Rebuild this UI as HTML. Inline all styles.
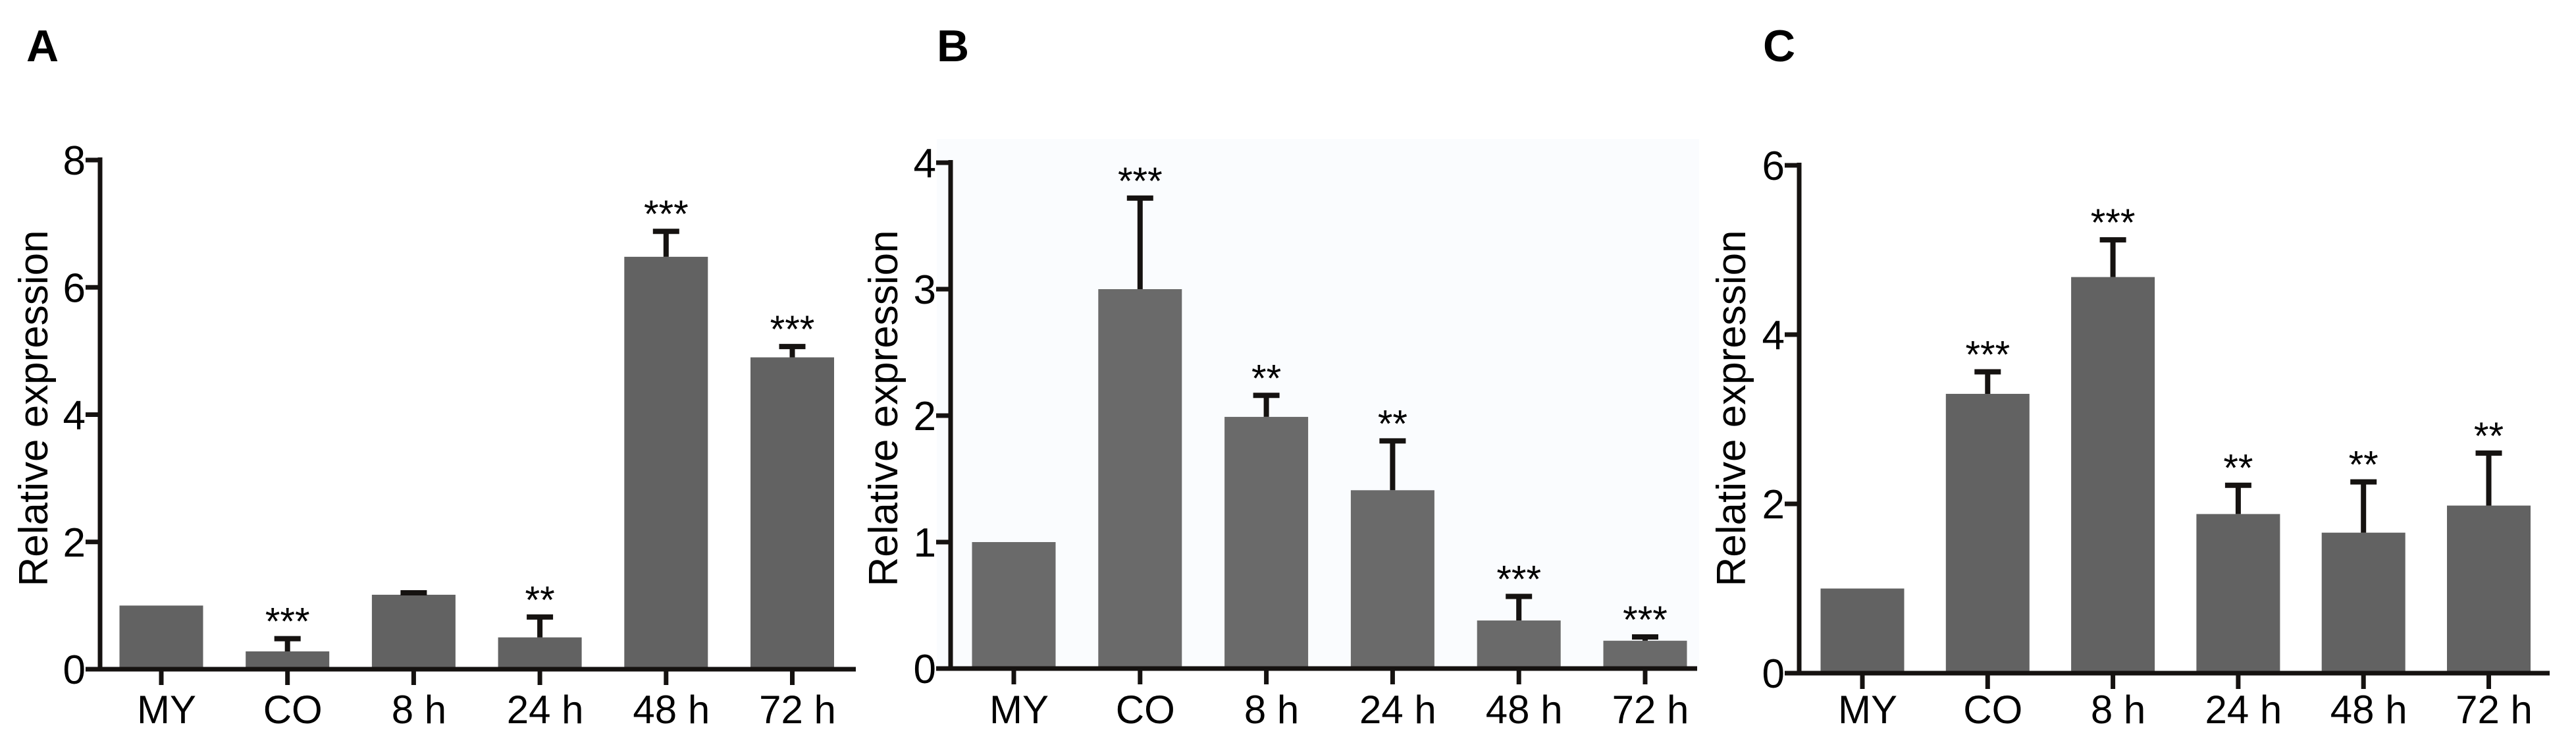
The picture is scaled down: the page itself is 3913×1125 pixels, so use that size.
<!DOCTYPE html>
<html><head><meta charset="utf-8"><style>
html,body{margin:0;padding:0;background:#fff;}
svg{display:block;font-family:"Liberation Sans",Arial,sans-serif;}
</style></head><body>
<svg id="fig" width="3913" height="1125" viewBox="0 0 3913 1125">
<rect x="0" y="0" width="3913" height="1125" fill="#fff"/>
<rect x="1423" y="211" width="1158" height="805" fill="#fafcfe"/>
</svg>
<script>
const categories = ["MY","CO","8 h","24 h","48 h","72 h"];
const valuesA = [1.0, 0.28, 1.17, 0.5, 6.48, 4.9];
const errTopA = [1.0, 0.48, 1.2, 0.82, 6.88, 5.07];
const sigA = ["", "***", "", "**", "***", "***"];
const ticksA = [0, 2, 4, 6, 8];
const valuesB = [1.0, 3.0, 1.99, 1.41, 0.38, 0.22];
const errTopB = [1.0, 3.72, 2.16, 1.8, 0.57, 0.25];
const sigB = ["", "***", "**", "**", "***", "***"];
const ticksB = [0, 1, 2, 3, 4];
const valuesC = [1.0, 3.3, 4.68, 1.88, 1.66, 1.98];
const errTopC = [1.0, 3.56, 5.12, 2.22, 2.26, 2.6];
const sigC = ["", "***", "***", "**", "**", "**"];
const ticksC = [0, 2, 4, 6];

const NS = "http://www.w3.org/2000/svg";
const svg = document.getElementById("fig");
function mk(tag, attrs, parent){
  const e = document.createElementNS(NS, tag);
  for (const k in attrs) e.setAttribute(k, attrs[k]);
  (parent||svg).appendChild(e);
  return e;
}
function panel(cfg, vals, errs, sigs, ticks){
  const g = mk("g", {});
  
  
  const ymax = ticks[ticks.length-1];
  const y = v => cfg.y0 - (cfg.y0 - cfg.yTop) * v / ymax;
  const x = i => cfg.x0 + i * cfg.step;
  const bw = 127;
  const lab = mk("text", {x: cfg.labX, y: 93, "font-size": 68, "font-weight": "bold", fill: "#000"}, g);
  lab.textContent = cfg.id.toUpperCase();
  
  
  vals.forEach((v, i) => {
    const r = mk("rect", {x: x(i) - bw/2, y: y(v), width: bw, height: cfg.y0 - y(v), fill: cfg.color}, g);
    
    
    if (errs[i] > v) {
      const eb = mk("path", {d: `M${x(i)},${y(v)} V${y(errs[i])} M${x(i)-20},${y(errs[i])} H${x(i)+20}`, stroke: "#151210", "stroke-width": 8, fill: "none"}, g);
      
      
    }
    if (sigs[i]) {
      const t = mk("text", {x: x(i), y: y(errs[i]) - 6, "font-size": 58, "text-anchor": "middle", fill: "#000"}, g);
      t.textContent = sigs[i];
      
      
    }
  });
  const ax = mk("path", {d: `M${cfg.axX},${y(ymax)-4} V${cfg.y0} M${cfg.axX-22},${cfg.y0} H${cfg.xEnd}`, stroke: "#151210", "stroke-width": 7, fill: "none"}, g);
  
  
  ticks.forEach(t => {
    const tk = mk("line", {x1: cfg.axX-22, x2: cfg.axX, y1: y(t), y2: y(t), stroke: "#151210", "stroke-width": 7}, g);
    
    
    const tl = mk("text", {x: cfg.axX-22, y: y(t)+22, "font-size": 62, "text-anchor": "end", fill: "#000"}, g);
    tl.textContent = t;
    
    
  });
  categories.forEach((c, i) => {
    const tk = mk("line", {x1: x(i), x2: x(i), y1: cfg.y0, y2: cfg.y0+24, stroke: "#151210", "stroke-width": 7}, g);
    
    
    const tl = mk("text", {x: x(i) + 8, y: 1098, "font-size": 60, "text-anchor": "middle", fill: "#000"}, g);
    tl.textContent = c;
    
    
  });
  const yt = mk("text", {x: 0, y: 0, "font-size": 62, "text-anchor": "middle", fill: "#000", transform: `translate(${cfg.titleX},620) rotate(-90)`}, g);
  yt.textContent = "Relative expression";
  
  
}
panel({id:"a", x0:245, step:191.7, y0:1016, yTop:243, axX:152, xEnd:1300, labX:40, titleX:72, color:"#626262"}, valuesA, errTopA, sigA, ticksA);
panel({id:"b", x0:1540, step:191.8, y0:1015, yTop:247, axX:1444, xEnd:2578, labX:1423, titleX:1363, color:"#6a6a6a"}, valuesB, errTopB, sigB, ticksB);
panel({id:"c", x0:2829, step:190.3, y0:1022, yTop:251, axX:2733, xEnd:3873, labX:2678, titleX:2651, color:"#626262"}, valuesC, errTopC, sigC, ticksC);
</script>
</body></html>
